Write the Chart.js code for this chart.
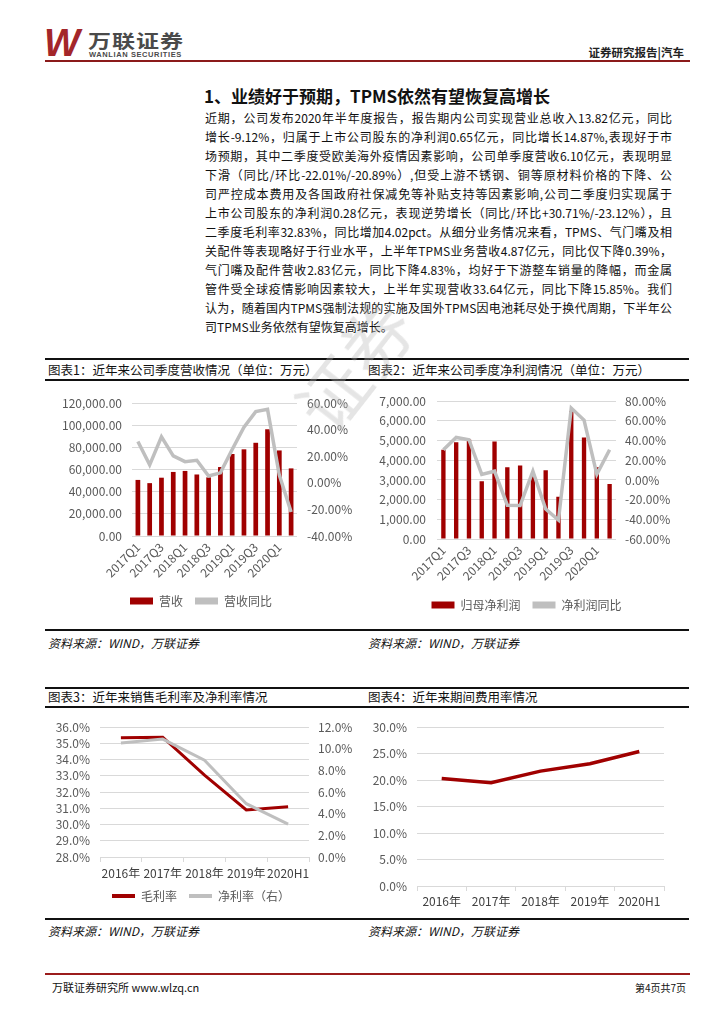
<!DOCTYPE html>
<html>
<head>
<meta charset="utf-8">
<script src="https://cdn.jsdelivr.net/npm/chart.js@4.4.0/dist/chart.umd.min.js"></script>
<style>
  body { margin: 0; background: #fff; }
  #page { position: relative; width: 724px; height: 1024px; overflow: hidden; font-family: "Noto Sans CJK SC", sans-serif; color: #111; }
  .abs { position: absolute; }
  .hline { position: absolute; left: 45px; width: 644px; background: #111; }
  .cap { position: absolute; font-size: 12.5px; line-height: 14px; color: #111; white-space: nowrap; }
  .src { position: absolute; font-size: 12px; font-style: italic; color: #111; white-space: nowrap; }
  .para div { height: 19px; line-height: 19px; font-size: 12px; text-align: justify; text-align-last: justify; white-space: nowrap; }
  .para div.last { text-align-last: left; }
  canvas { position: absolute; }
</style>
</head>
<body>
<div id="page">
  <!-- header -->
  <div class="abs" style="left:44px;top:22px;font:italic 900 38px 'Liberation Sans',sans-serif;color:#a3262a;letter-spacing:-3px;">W</div>
  <div class="abs" style="left:88px;top:31px;font-size:23px;line-height:23px;font-weight:700;color:#4a4a4a;letter-spacing:1px;transform:scaleY(0.8);transform-origin:0 0;">万联证券</div>
  <div class="abs" style="left:89px;top:51px;font:700 7.5px/8px 'Liberation Sans',sans-serif;color:#4a4a4a;letter-spacing:0.6px;">WANLIAN SECURITIES</div>
  <div class="abs" style="right:40px;top:44px;font-size:11.5px;font-weight:700;color:#222;">证券研究报告|汽车</div>
  <div class="abs" style="left:45px;top:60px;width:645px;height:2px;background:#8b1a1a;"></div>

  <div class="abs" style="left:204px;top:83px;font-size:17px;font-weight:700;color:#111;">1、业绩好于预期，TPMS依然有望恢复高增长</div>

  <div class="abs para" style="left:205px;top:108px;width:467px;">
    <div>近期，公司发布2020年半年度报告，报告期内公司实现营业总收入13.82亿元，同比</div>
    <div>增长-9.12%，归属于上市公司股东的净利润0.65亿元，同比增长14.87%,表现好于市</div>
    <div>场预期，其中二季度受欧美海外疫情因素影响，公司单季度营收6.10亿元，表现明显</div>
    <div>下滑（同比/环比-22.01%/-20.89%）,但受上游不锈钢、铜等原材料价格的下降、公</div>
    <div>司严控成本费用及各国政府社保减免等补贴支持等因素影响,公司二季度归实现属于</div>
    <div>上市公司股东的净利润0.28亿元，表现逆势增长（同比/环比+30.71%/-23.12%），且</div>
    <div>二季度毛利率32.83%，同比增加4.02pct。从细分业务情况来看，TPMS、气门嘴及相</div>
    <div>关配件等表现略好于行业水平，上半年TPMS业务营收4.87亿元，同比仅下降0.39%，</div>
    <div>气门嘴及配件营收2.83亿元，同比下降4.83%，均好于下游整车销量的降幅，而金属</div>
    <div>管件受全球疫情影响因素较大，上半年实现营收33.64亿元，同比下降15.85%。我们</div>
    <div>认为，随着国内TPMS强制法规的实施及国外TPMS因电池耗尽处于换代周期，下半年公</div>
    <div class="last">司TPMS业务依然有望恢复高增长。</div>
  </div>

  <!-- row 1 captions -->
  <div class="hline" style="top:358px;height:2px;"></div>
  <div class="cap" style="left:48px;top:363px;">图表1：近年来公司季度营收情况（单位：万元）</div>
  <div class="cap" style="left:368px;top:363px;">图表2：近年来公司季度净利润情况（单位：万元）</div>
  <div class="hline" style="top:379px;height:2px;"></div>

  <canvas id="c1" width="312" height="240" style="left:45px;top:383px;"></canvas>
  <canvas id="c2" width="323" height="240" style="left:365px;top:383px;"></canvas>

  <div class="hline" style="top:629px;height:2px;"></div>
  <div class="src" style="left:48px;top:634px;">资料来源：WIND，万联证券</div>
  <div class="src" style="left:368px;top:634px;">资料来源：WIND，万联证券</div>

  <!-- row 2 captions -->
  <div class="hline" style="top:687px;height:2px;"></div>
  <div class="cap" style="left:48px;top:690px;">图表3：近年来销售毛利率及净利率情况</div>
  <div class="cap" style="left:368px;top:690px;">图表4：近年来期间费用率情况</div>
  <div class="hline" style="top:706px;height:2px;"></div>

  <canvas id="c3" width="312" height="205" style="left:45px;top:710px;"></canvas>
  <canvas id="c4" width="323" height="205" style="left:365px;top:710px;"></canvas>

  <div class="hline" style="top:918px;height:2px;"></div>
  <div class="src" style="left:48px;top:922px;">资料来源：WIND，万联证券</div>
  <div class="src" style="left:368px;top:922px;">资料来源：WIND，万联证券</div>

  <!-- footer -->
  <div class="abs" style="left:45px;top:973px;width:645px;height:2px;background:#9b1c1c;"></div>
  <div class="abs" style="left:52px;top:979px;font-size:11px;color:#111;">万联证券研究所 www.wlzq.cn</div>
  <div class="abs" style="right:38px;top:980px;font-size:10px;color:#111;">第4页共7页</div>

  <!-- watermark -->
  <div class="abs" style="left:282px;top:314px;font-size:70px;font-weight:400;color:rgba(180,180,180,0.35);transform:rotate(-52deg);pointer-events:none;">证券</div>
</div>

<script>
// quarterly data
const quarters = ['2017Q1', '2017Q2', '2017Q3', '2017Q4', '2018Q1', '2018Q2', '2018Q3', '2018Q4',
    '2019Q1', '2019Q2', '2019Q3', '2019Q4', '2020Q1', '2020Q2']
const revenue = [50600, 47700, 52600, 57800, 58700, 55500, 52900, 62200, 74000, 78200, 84100, 96300, 77200, 61000]
const revenueYoy = [31.1, 13.5, 34.5, 20.2, 15.9, 16.9, 5.1, 7.5, 25.0, 41.9, 53.5, 55.2, 5.8, -22.01]
const netProfit = [4530, 4920, 5050, 2930, 4950, 3650, 3730, 3250, 3490, 2150, 6490, 5160, 3640, 2800]
const netProfitYoy = [30.7, 43.2, 40.9, 5.7, 8.9, -25.7, -26.0, 8.9, -29.6, -40.8, 73.0, 60.8, 5.7, 30.71]

// yearly data
const years = ['2016年', '2017年', '2018年', '2019年', '2020H1']
const grossMargin = [35.35, 35.38, 33.05, 30.9, 31.1]
const netMargin = [10.55, 10.9, 8.95, 4.93, 3.04]
const expenseRate = [20.3, 19.5, 21.7, 23.1, 25.4]

const RED = '#a00000'
const GREY = '#bfbfbf'
const GRID = '#d9d9d9'
const TICK = '#595959'

Chart.defaults.font.family = '"Noto Sans CJK SC", sans-serif'
Chart.defaults.font.size = 12
Chart.defaults.color = TICK
Chart.defaults.animation = false
Chart.defaults.responsive = false
Chart.defaults.plugins.tooltip.enabled = false

const money = v => v.toLocaleString('en-US', {minimumFractionDigits: 2, maximumFractionDigits: 2})
const pct2 = v => v.toFixed(2) + '%'
const pct1 = v => v.toFixed(1) + '%'
const fixW = w => (s) => { s.width = w }
const fixH = h => (s) => { s.height = h }

function legendOpts(boxH) {
    return {
        position: 'bottom',
        labels: {
            boxWidth: 23,
            boxHeight: boxH,
            padding: 12,
            color: TICK,
            font: {size: 12},
            sort: (a, b) => a.datasetIndex - b.datasetIndex,
            generateLabels(chart) {
                const items = Chart.defaults.plugins.legend.labels.generateLabels(chart)
                items.forEach(it => { it.fillStyle = it.strokeStyle; it.lineWidth = 0 })
                return items
            }
        }
    }
}

function quarterX(h) {
    return {
        grid: {drawOnChartArea: false, drawTicks: false},
        border: {display: false},
        afterFit: fixH(h),
        ticks: {
            autoSkip: false, minRotation: 45, maxRotation: 45, padding: 4,
            callback: (v, i) => i % 2 === 0 ? quarters[i] : ''
        }
    }
}

new Chart(document.querySelector('#c1'), {
    data: {
        labels: quarters,
        datasets: [
            {type: 'bar', label: '营收', data: revenue, backgroundColor: RED, borderColor: RED,
             yAxisID: 'y', order: 1, categoryPercentage: 1, barPercentage: 0.4},
            {type: 'line', label: '营收同比', data: revenueYoy, borderColor: GREY, backgroundColor: GREY,
             borderWidth: 3.5, pointRadius: 0, yAxisID: 'y1', order: 0}
        ]
    },
    options: {
        layout: {padding: {top: 20, bottom: 6}},
        plugins: {legend: legendOpts(7)},
        scales: {
            x: quarterX(47),
            y: {position: 'left', min: 0, max: 120000, afterFit: fixW(87),
                ticks: {stepSize: 20000, padding: 10, autoSkip: false, callback: money},
                grid: {color: GRID, drawTicks: false}, border: {display: false}},
            y1: {position: 'right', min: -40, max: 60, afterFit: fixW(60),
                ticks: {stepSize: 20, padding: 10, autoSkip: false, callback: pct2},
                grid: {drawOnChartArea: false, drawTicks: false}, border: {display: false}}
        }
    }
})

new Chart(document.querySelector('#c2'), {
    data: {
        labels: quarters,
        datasets: [
            {type: 'bar', label: '归母净利润', data: netProfit, backgroundColor: RED, borderColor: RED,
             yAxisID: 'y', order: 1, categoryPercentage: 1, barPercentage: 0.34},
            {type: 'line', label: '净利润同比', data: netProfitYoy, borderColor: GREY, backgroundColor: GREY,
             borderWidth: 3.5, pointRadius: 0, yAxisID: 'y1', order: 0}
        ]
    },
    options: {
        layout: {padding: {top: 16, bottom: 2}},
        plugins: {legend: legendOpts(7)},
        scales: {
            x: quarterX(48),
            y: {position: 'left', min: 0, max: 7000, afterFit: fixW(72),
                ticks: {stepSize: 1000, padding: 11, autoSkip: false, callback: money},
                grid: {color: GRID, drawTicks: false}, border: {display: false}},
            y1: {position: 'right', min: -60, max: 80, afterFit: fixW(72),
                ticks: {stepSize: 20, padding: 9, autoSkip: false, callback: pct2},
                grid: {drawOnChartArea: false, drawTicks: false}, border: {display: false}}
        }
    }
})

function yearX(h, pad) {
    return {
        offset: true,
        grid: {offset: true, drawOnChartArea: false, drawTicks: true, tickLength: 5, color: GRID},
        border: {color: GRID},
        afterFit: fixH(h),
        ticks: {padding: pad, color: '#404040', font: {size: 12}, maxRotation: 0, minRotation: 0, autoSkip: false}
    }
}

new Chart(document.querySelector('#c3'), {
    type: 'line',
    data: {
        labels: years,
        datasets: [
            {label: '毛利率', data: grossMargin, borderColor: RED, backgroundColor: RED,
             borderWidth: 3, pointRadius: 0, yAxisID: 'y', order: 1},
            {label: '净利率（右）', data: netMargin, borderColor: GREY, backgroundColor: GREY,
             borderWidth: 3, pointRadius: 0, yAxisID: 'y1', order: 0}
        ]
    },
    options: {
        layout: {padding: {top: 15, bottom: 3}},
        plugins: {legend: legendOpts(4)},
        scales: {
            x: yearX(21, 4),
            y: {position: 'left', min: 28, max: 36, afterFit: fixW(55),
                ticks: {stepSize: 1, padding: 10, autoSkip: false, callback: pct1},
                grid: {color: GRID, drawTicks: false}, border: {display: false}},
            y1: {position: 'right', min: 0, max: 12, afterFit: fixW(48),
                ticks: {stepSize: 2, padding: 9, autoSkip: false, callback: pct1},
                grid: {drawOnChartArea: false, drawTicks: false}, border: {display: false}}
        }
    }
})

new Chart(document.querySelector('#c4'), {
    type: 'line',
    data: {
        labels: years,
        datasets: [
            {label: '期间费用率', data: expenseRate, borderColor: RED, backgroundColor: RED,
             borderWidth: 3.5, pointRadius: 0}
        ]
    },
    options: {
        layout: {padding: {top: 14, right: 24, bottom: 4}},
        plugins: {legend: {display: false}},
        scales: {
            x: yearX(25, 3),
            y: {min: 0, max: 30, afterFit: fixW(52),
                ticks: {stepSize: 5, padding: 10, autoSkip: false, callback: pct1},
                grid: {color: GRID, drawTicks: false}, border: {display: false}},
        }
    }
})
</script>
</body>
</html>
